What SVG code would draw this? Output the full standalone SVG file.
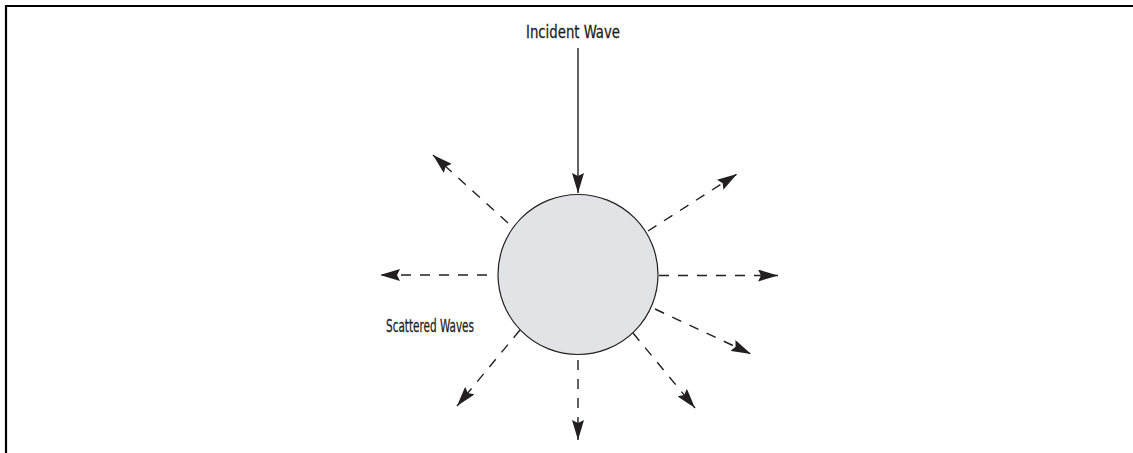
<svg xmlns="http://www.w3.org/2000/svg" width="1133" height="453" viewBox="0 0 1133 453">
<style>
.lbl{font-family:"DejaVu Sans Condensed","Liberation Sans",sans-serif;font-size:18px;fill:#231f20;stroke:#231f20;stroke-width:0.3}
.sc{stroke:#231f20;stroke-width:1.4;stroke-dasharray:10,9;fill:none}
.inc{stroke:#231f20;stroke-width:1.4;fill:none}
</style>
<defs>
<marker id="ahb" viewBox="0 0 20 12" refX="20" refY="6" markerWidth="20" markerHeight="12" markerUnits="userSpaceOnUse" orient="auto">
<path d="M0,0 L20,6 L0,12 L3,6 Z" fill="#231f20"/>
</marker>
</defs>
<rect width="1133" height="453" fill="#fff"/>
<path d="M6,453 V6 H1133" fill="none" stroke="#000" stroke-width="2.2"/>
<g id="scatterer">
<circle cx="578" cy="274.5" r="80" fill="#e2e3e5" stroke="#231f20" stroke-width="1.2"/>
</g>
<g id="label-incident">
<text class="lbl" x="526" y="38" textLength="94" lengthAdjust="spacingAndGlyphs">Incident Wave</text>
</g>
<g id="label-scattered">
<text class="lbl" x="386" y="332" textLength="88" lengthAdjust="spacingAndGlyphs">Scattered Waves</text>
</g>
<g id="connectors">
<line class="inc" x1="578" y1="48" x2="578" y2="193" marker-end="url(#ahb)"/>
<line class="sc" x1="487" y1="275" x2="380" y2="275" marker-end="url(#ahb)"/>
<line class="sc" x1="508" y1="223" x2="433" y2="155" marker-end="url(#ahb)"/>
<line class="sc" x1="659" y1="275.5" x2="778" y2="275.5" marker-end="url(#ahb)"/>
<line class="sc" x1="648" y1="231" x2="737" y2="174" marker-end="url(#ahb)"/>
<line class="sc" x1="655" y1="309" x2="751" y2="354" marker-end="url(#ahb)"/>
<line class="sc" x1="633" y1="333" x2="695" y2="408" marker-end="url(#ahb)"/>
<line class="sc" x1="520" y1="330" x2="457" y2="406" marker-end="url(#ahb)"/>
<line class="sc" x1="578" y1="360" x2="578" y2="440" marker-end="url(#ahb)"/>
</g>
</svg>
